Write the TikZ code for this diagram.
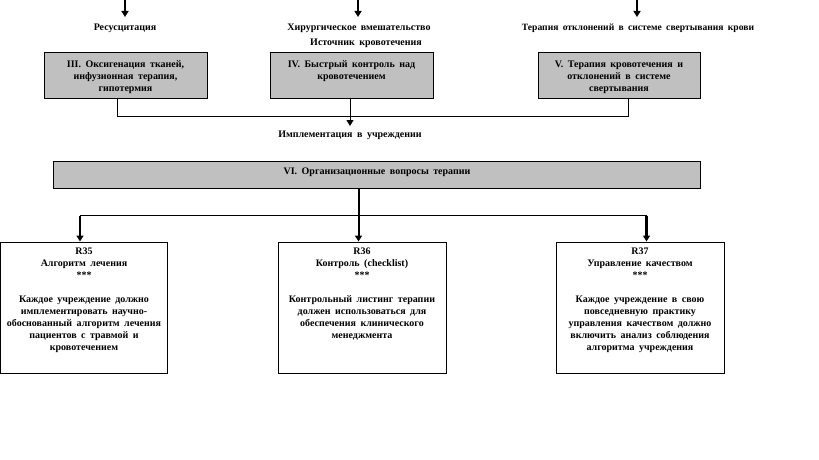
\documentclass[tikz,border=0pt]{standalone}
\usepackage{fontspec}
\setmainfont{Liberation Serif}[WordSpace=1.8]
\usetikzlibrary{arrows.meta}
\definecolor{boxgray}{RGB}{192,192,192}
\begin{document}
\begin{tikzpicture}[x=1pt,y=-1pt,
  every node/.style={font=\bfseries\fontsize{10}{12}\selectfont, inner sep=0pt},
  graybox/.style={draw, fill=boxgray, line width=1pt},
  whitebox/.style={draw, fill=white, line width=1pt},
  txt/.style={align=center},
  conn/.style={line width=1pt},
  midconn/.style={line width=2pt},
  thickconn/.style={line width=2.6pt},
  tip/.style={-{Triangle[length=6pt,width=7pt]}}
]
\useasboundingbox (0,0) rectangle (819,460);
% top labels
\node[txt] (l1) at (125,28.5) {Ресусцитация};
\node[txt] (l2) at (359,28.5) {Хирургическое вмешательство};
\node[txt] (l2b) at (366,43.5) {Источник кровотечения};
\node[txt, font=\bfseries\fontsize{9.6}{12}\selectfont] (l3) at (638,28.5) {Терапия отклонений в системе свертывания крови};
\coordinate (t1) at (125,0);
\coordinate (t1e) at (125,17);
\coordinate (t2) at (358,0);
\coordinate (t2e) at (358,17);
\coordinate (t3) at (637,0);
\coordinate (t3e) at (637,17);
\draw[thickconn,tip] (t1) -- (t1e);
\draw[thickconn,tip] (t2) -- (t2e);
\draw[thickconn,tip] (t3) -- (t3e);
% boxes III-V
\node[graybox, minimum width=163pt, minimum height=45pt] (b3) at (125.5,75.5) {};
\node[graybox, minimum width=163pt, minimum height=45pt] (b4) at (351.5,75.5) {};
\node[graybox, minimum width=162pt, minimum height=45pt] (b5) at (619,75.5) {};
\node[txt, anchor=north] (b3t) at ([yshift=-8pt]b3.north) {III. Оксигенация тканей,\\инфузионная терапия,\\гипотермия};
\node[txt, anchor=north] (b4t) at ([yshift=-8pt]b4.north) {IV. Быстрый контроль над\\кровотечением};
\node[txt, anchor=north] (b5t) at ([yshift=-8pt]b5.north) {V. Терапия кровотечения и\\отклонений в системе\\свертывания};
% join
\draw[conn] ([xshift=-8.5pt]b3.south) -- ++(0,18) -| ([xshift=9pt]b5.south);
\node[txt] (impl) at (350,135) {Имплементация в учреждении};
\coordinate (ie) at (350,126);
\draw[conn,tip] ([xshift=-1.5pt]b4.south) -- (ie);
% box VI
\node[graybox, minimum width=647pt, minimum height=27pt] (b6) at (376.5,174.5) {};
\node[txt] (b6t) at (377,172.5) {VI. Организационные вопросы терапии};
% bottom boxes
\node[whitebox, minimum width=167pt, minimum height=131pt] (r35) at (84,307.5) {};
\node[whitebox, minimum width=168pt, minimum height=131pt] (r36) at (362,307.5) {};
\node[whitebox, minimum width=168pt, minimum height=131pt] (r37) at (640,307.5) {};
\node[txt, anchor=north] (r35t) at ([yshift=-6pt]r35.north) {R35\\Алгоритм лечения\\***\\[12pt]Каждое учреждение должно\\имплементировать научно-\\обоснованный алгоритм лечения\\пациентов с травмой и\\кровотечением};
\node[txt, anchor=north] (r36t) at ([yshift=-6pt]r36.north) {R36\\Контроль (checklist)\\***\\[12pt]Контрольный листинг терапии\\должен использоваться для\\обеспечения клинического\\менеджмента};
\node[txt, anchor=north] (r37t) at ([yshift=-6pt]r37.north) {R37\\Управление качеством\\***\\[12pt]Каждое учреждение в свою\\повседневную практику\\управления качеством должно\\включить анализ соблюдения\\алгоритма учреждения};
% connectors to bottom boxes
\coordinate (jl) at (80,215.5);
\coordinate (jm) at (358.5,215.5);
\coordinate (jr) at (646.5,215.5);
\draw[conn] (jl) -- (jr);
\draw[midconn,tip] (b6.south -| jm) -- (r36.north -| jm);
\draw[thickconn,tip] (jl) -- (r35.north -| jl);
\draw[thickconn,tip] (jr) -- (r37.north -| jr);
\end{tikzpicture}
\end{document}
